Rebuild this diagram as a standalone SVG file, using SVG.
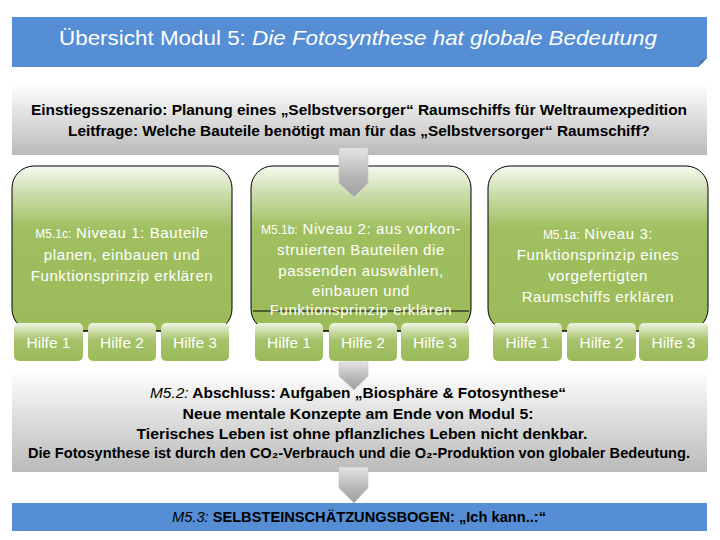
<svg xmlns="http://www.w3.org/2000/svg" width="720" height="540" viewBox="0 0 720 540">
<defs>
<linearGradient id="gGray" x1="0" y1="0" x2="0" y2="1">
<stop offset="0" stop-color="#ffffff"/><stop offset="0.35" stop-color="#e6e6e6"/><stop offset="1" stop-color="#bababa"/>
</linearGradient>
<linearGradient id="gGreen" x1="0" y1="0" x2="0" y2="1">
<stop offset="0" stop-color="#f7faf1"/><stop offset="0.15" stop-color="#cfdfb3"/><stop offset="0.38" stop-color="#a0bf60"/><stop offset="1" stop-color="#9bbb59"/>
</linearGradient>
<linearGradient id="gHilfe" x1="0" y1="0" x2="0" y2="1">
<stop offset="0" stop-color="#eef4e2"/><stop offset="0.45" stop-color="#a6c26a"/><stop offset="1" stop-color="#9bbb59"/>
</linearGradient>
<linearGradient id="gArrow" x1="0" y1="0" x2="0" y2="1">
<stop offset="0" stop-color="#e4e4e4"/><stop offset="0.6" stop-color="#b5b5b5"/><stop offset="1" stop-color="#a0a0a0"/>
</linearGradient>
<style>
.blue{fill:#558ed5}
.gray{fill:url(#gGray)}
.box{fill:url(#gGreen);stroke:#000;stroke-width:1}
.hilfe{fill:url(#gHilfe)}
.arrow{fill:url(#gArrow);stroke:#c8c8c8;stroke-width:0.6}
.t{font-family:"Liberation Sans",Arial,sans-serif;text-anchor:middle}
.w{fill:#fff}
.k{fill:#000;font-weight:bold}
.g{font-size:15px;letter-spacing:0.6px}
.h{font-size:15.5px}
.sm{font-size:12px;letter-spacing:0}
</style>
</defs>

<g id="title">
<path class="blue" d="M12,17 H707 V58 L698,67 H12 Z"/>
<polygon points="698,67 707,58 701,61" fill="#3b679f"/>
<text class="t w" x="358" y="45" font-size="20" textLength="598" lengthAdjust="spacingAndGlyphs">Übersicht Modul 5: <tspan font-style="italic">Die Fotosynthese hat globale Bedeutung</tspan></text>
</g>

<g id="einstieg">
<rect class="gray" x="12" y="84" width="695" height="71"/>
<text class="t k" x="359" y="115" font-size="15" textLength="656" lengthAdjust="spacingAndGlyphs">Einstiegsszenario: Planung eines „Selbstversorger“ Raumschiffs für Weltraumexpedition</text>
<text class="t k" x="359" y="136" font-size="15" textLength="582" lengthAdjust="spacingAndGlyphs">Leitfrage: Welche Bauteile benötigt man für das „Selbstversorger“ Raumschiff?</text>
</g>

<g id="niveau1">
<rect class="box" x="12" y="166" width="220" height="165" rx="22"/>
<text class="t w g" x="122" y="238"><tspan class="sm">M5.1c:</tspan> Niveau 1: Bauteile</text>
<text class="t w g" x="122" y="260">planen, einbauen und</text>
<text class="t w g" x="122" y="281">Funktionsprinzip erklären</text>
</g>
<g id="n1h1"><rect class="hilfe" x="14" y="323" width="69" height="38" rx="5"/><text class="t w h" x="48.5" y="348">Hilfe 1</text></g>
<g id="n1h2"><rect class="hilfe" x="88" y="323" width="68" height="38" rx="5"/><text class="t w h" x="122" y="348">Hilfe 2</text></g>
<g id="n1h3"><rect class="hilfe" x="161" y="323" width="68" height="38" rx="5"/><text class="t w h" x="195" y="348">Hilfe 3</text></g>

<g id="niveau2">
<rect class="box" x="251" y="166" width="220" height="165" rx="22"/>
<line x1="253" y1="311" x2="469" y2="311" stroke="#000" stroke-width="1"/>
<text class="t w g" x="361" y="234"><tspan class="sm">M5.1b:</tspan> Niveau 2: aus vorkon-</text>
<text class="t w g" x="361" y="255">struierten Bauteilen die</text>
<text class="t w g" x="361" y="276">passenden auswählen,</text>
<text class="t w g" x="361" y="296">einbauen und</text>
<text class="t w g" x="361" y="315">Funktionsprinzip erklären</text>
</g>
<g id="n2h1"><rect class="hilfe" x="255" y="323" width="68" height="38" rx="5"/><text class="t w h" x="289" y="348">Hilfe 1</text></g>
<g id="n2h2"><rect class="hilfe" x="329" y="323" width="68" height="38" rx="5"/><text class="t w h" x="363" y="348">Hilfe 2</text></g>
<g id="n2h3"><rect class="hilfe" x="401" y="323" width="68" height="38" rx="5"/><text class="t w h" x="435" y="348">Hilfe 3</text></g>

<g id="niveau3">
<rect class="box" x="488" y="166" width="220" height="165" rx="22"/>
<text class="t w g" x="598" y="239"><tspan class="sm">M5.1a:</tspan> Niveau 3:</text>
<text class="t w g" x="598" y="260">Funktionsprinzip eines</text>
<text class="t w g" x="598" y="281">vorgefertigten</text>
<text class="t w g" x="598" y="302">Raumschiffs erklären</text>
</g>
<g id="n3h1"><rect class="hilfe" x="493" y="323" width="69" height="38" rx="5"/><text class="t w h" x="527.5" y="348">Hilfe 1</text></g>
<g id="n3h2"><rect class="hilfe" x="567" y="323" width="69" height="38" rx="5"/><text class="t w h" x="601.5" y="348">Hilfe 2</text></g>
<g id="n3h3"><rect class="hilfe" x="639" y="323" width="69" height="38" rx="5"/><text class="t w h" x="673.5" y="348">Hilfe 3</text></g>

<g id="abschluss">
<rect class="gray" x="12" y="370" width="695" height="102"/>
<text class="t k" x="358" y="398" font-size="15" textLength="416" lengthAdjust="spacingAndGlyphs"><tspan font-style="italic" font-weight="normal">M5.2:</tspan> Abschluss: Aufgaben „Biosphäre &amp; Fotosynthese“</text>
<text class="t k" x="358" y="419" font-size="15" textLength="351" lengthAdjust="spacingAndGlyphs">Neue mentale Konzepte am Ende von Modul 5:</text>
<text class="t k" x="362" y="439" font-size="15" textLength="451" lengthAdjust="spacingAndGlyphs">Tierisches Leben ist ohne pflanzliches Leben nicht denkbar.</text>
<text class="t k" x="359" y="458" font-size="15" textLength="662" lengthAdjust="spacingAndGlyphs">Die Fotosynthese ist durch den CO₂-Verbrauch und die O₂-Produktion von globaler Bedeutung.</text>
</g>

<g id="selbsteinschaetzung">
<rect class="blue" x="12" y="503" width="695" height="28"/>
<text class="t k" x="359" y="522" font-size="14" textLength="374" lengthAdjust="spacingAndGlyphs"><tspan font-style="italic" font-weight="normal">M5.3:</tspan> SELBSTEINSCHÄTZUNGSBOGEN: „Ich kann..:“</text>
</g>

<g id="connectors">
<polygon class="arrow" points="339,148 368,148 368,183 354,197 339,183"/>
<polygon class="arrow" points="339,362 368,362 368,376 354,390 339,376"/>
<polygon class="arrow" points="339,467 368,467 368,488 354,503 339,488"/>
<polygon points="83,323 88,323 85.5,329" fill="#9bbb59"/>
<polygon points="156,323 161,323 158.5,329" fill="#9bbb59"/>
<line x1="83" y1="331" x2="88" y2="331" stroke="#000"/>
<line x1="156" y1="331" x2="161" y2="331" stroke="#000"/>
<line x1="323" y1="331" x2="329" y2="331" stroke="#000"/>
<line x1="397" y1="331" x2="401" y2="331" stroke="#000"/>
<line x1="562" y1="331" x2="567" y2="331" stroke="#000"/>
<line x1="636" y1="331" x2="639" y2="331" stroke="#000"/>
</g>
</svg>
